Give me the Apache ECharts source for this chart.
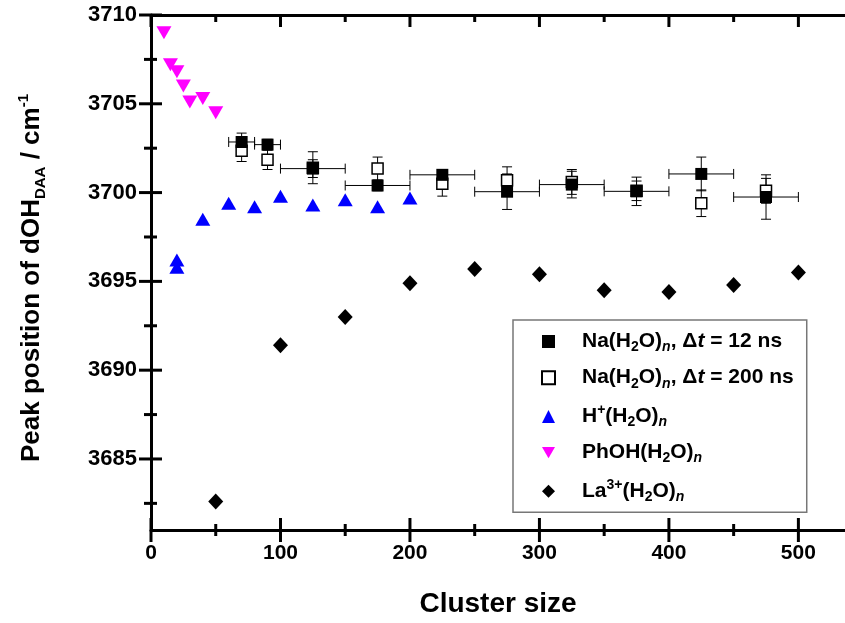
<!DOCTYPE html>
<html>
<head>
<meta charset="utf-8">
<script src="https://cdn.jsdelivr.net/npm/echarts@6/dist/echarts.min.js"></script>
<style>
  html, body { margin: 0; padding: 0; background: #fff; }
  #chart { width: 845px; height: 623px; }
</style>
</head>
<body>
<div id="chart"></div>
<script>
const FONT = "'Liberation Sans', Arial, Helvetica, sans-serif";

// Na(H2O)n clusters: size bins (centre and half-width) and peak positions / cm^-1
const naSizes   = [70, 90, 125, 175, 225, 275, 325, 375, 425, 475];
const naSizeErr = [10, 10, 25, 25, 25, 25, 25, 25, 25, 25];
const na12Peak     = [3702.85, 3702.7, 3701.35, 3700.4, 3701.0, 3700.05, 3700.45, 3700.07, 3701.05, 3699.75];
const na12PeakErr  = [0.5, 0.3, 0.5, 0.3, 0.3, 1.0, 0.75, 0.8, 0.95, 1.25];
const na200Peak    = [3702.35, 3701.85, 3701.4, 3701.35, 3700.5, 3700.7, 3700.6, 3700.1, 3699.4, 3700.1];
const na200PeakErr = [0.6, 0.55, 0.9, 0.65, 0.7, 0.75, 0.7, 0.55, 0.75, 0.7];

// Protonated water clusters
const hSizes = [20, 20, 40, 60, 80, 100, 125, 150, 175, 200];
const hPeak  = [3696.2, 3695.8, 3698.5, 3699.4, 3699.2, 3699.8, 3699.3, 3699.6, 3699.2, 3699.7];

// Phenol-water clusters
const phSizes = [10, 15, 20, 25, 30, 40, 50];
const phPeak  = [3709.0, 3707.2, 3706.8, 3706.0, 3705.1, 3705.3, 3704.5];

// La3+ water clusters
const laSizes = [50, 100, 150, 200, 250, 300, 350, 400, 450, 500];
const laPeak  = [3682.6, 3691.4, 3693.0, 3694.9, 3695.7, 3695.4, 3694.5, 3694.4, 3694.8, 3695.5];

// Axis ranges and tick values
const xRange = [0, 536];
const yRange = [3681, 3710];
const xMajor = [0, 100, 200, 300, 400, 500];
const xMinor = [50, 150, 250, 350, 450];
const yMajor = [3685, 3690, 3695, 3700, 3705, 3710];
const yMinor = [3682.5, 3687.5, 3692.5, 3697.5, 3702.5, 3707.5];

const seriesNames = [
  'Na(H2O)n, dt = 12 ns',
  'Na(H2O)n, dt = 200 ns',
  'H+(H2O)n',
  'PhOH(H2O)n',
  'La3+(H2O)n'
];
const legendRich = [
  '{g|}{r|Na(H}{s|2}{r|O)}{si|n}{r|, \u0394}{ri|t}{r| = 12 ns}',
  '{g|}{r|Na(H}{s|2}{r|O)}{si|n}{r|, \u0394}{ri|t}{r| = 200 ns}',
  '{g|}{r|H}{p|+}{r|(H}{s|2}{r|O)}{si|n}',
  '{g|}{r|PhOH(H}{s|2}{r|O)}{si|n}',
  '{g|}{r|La}{p|3+}{r|(H}{s|2}{r|O)}{si|n}'
];
const DOWN_TRIANGLE = 'path://M0,0L2,0L1,1.75Z';

const BIG = 21, SMALL = 14;
const richStyles = {
  g:  { width: 22, lineHeight: 26 },
  r:  { fontFamily: FONT, fontWeight: 'bold', fontSize: BIG, color: '#000', lineHeight: 26, verticalAlign: 'middle' },
  ri: { fontFamily: FONT, fontWeight: 'bold', fontStyle: 'italic', fontSize: BIG, color: '#000', lineHeight: 26, verticalAlign: 'middle' },
  s:  { fontFamily: FONT, fontWeight: 'bold', fontSize: SMALL, color: '#000', lineHeight: 13, verticalAlign: 'bottom' },
  si: { fontFamily: FONT, fontWeight: 'bold', fontStyle: 'italic', fontSize: SMALL, color: '#000', lineHeight: 13, verticalAlign: 'bottom' },
  p:  { fontFamily: FONT, fontWeight: 'bold', fontSize: SMALL, color: '#000', lineHeight: 13, verticalAlign: 'top' }
};

const frameLine = { show: true, lineStyle: { color: '#000', width: 3 } };

const xAxes = [
  {
    type: 'value', position: 'bottom', min: xRange[0], max: xRange[1],
    axisLine: frameLine,
    axisTick: { show: false },
    axisLabel: {
      customValues: xMajor, margin: 13,
      fontFamily: FONT, fontWeight: 'bold', fontSize: 21, color: '#000',
      formatter: v => String(v)
    },
    splitLine: { show: false },
    name: 'Cluster size', nameLocation: 'middle', nameGap: 60,
    nameTextStyle: { fontFamily: FONT, fontWeight: 'bold', fontSize: 28, color: '#000' }
  },
  {
    type: 'value', position: 'top', min: xRange[0], max: xRange[1],
    axisLine: frameLine,
    axisTick: { show: false },
    axisLabel: { show: false },
    splitLine: { show: false }
  }
];

const yAxes = [
  {
    type: 'value', position: 'left', min: yRange[0], max: yRange[1],
    axisLine: frameLine,
    axisTick: { show: false },
    axisLabel: {
      customValues: yMajor, margin: 14,
      fontFamily: FONT, fontWeight: 'bold', fontSize: 22, color: '#000',
      formatter: v => String(v)
    },
    splitLine: { show: false },
    name: '{m|Peak position of dOH}{s|DAA}{m| / cm}{p|-1}',
    nameLocation: 'middle', nameRotate: 90, nameGap: 103,
    nameTextStyle: {
      padding: [0, 11, 0, 0],
      rich: {
        m: { fontFamily: FONT, fontWeight: 'bold', fontSize: 26, color: '#000', lineHeight: 32, verticalAlign: 'middle' },
        s: { fontFamily: FONT, fontWeight: 'bold', fontSize: 15, color: '#000', lineHeight: 14, verticalAlign: 'bottom' },
        p: { fontFamily: FONT, fontWeight: 'bold', fontSize: 15, color: '#000', lineHeight: 14, verticalAlign: 'top' }
      }
    }
  }
];

// Thick tick bar between two pixel points (filled rectangle, 3px wide).
function tickBar(x1, y1, x2, y2) {
  const w = 3;
  if (x1 === x2) {
    return { type: 'rect', shape: { x: x1 - w / 2, y: Math.min(y1, y2), width: w, height: Math.abs(y2 - y1) }, style: { fill: '#000' } };
  }
  return { type: 'rect', shape: { x: Math.min(x1, x2), y: y1 - w / 2, width: Math.abs(x2 - x1), height: w }, style: { fill: '#000' } };
}

// Tick marks on the bottom (crossing) and top (inward) frame lines at an x value.
function xTickMarks(half, topLen) {
  return (params, api) => {
    const v = api.value(0);
    const b = api.coord([v, yRange[0]]);
    const t = api.coord([v, yRange[1]]);
    return {
      type: 'group',
      children: [
        tickBar(b[0], b[1] - half, b[0], b[1] + half),
        tickBar(t[0], t[1], t[0], t[1] + topLen)
      ]
    };
  };
}
// Tick marks crossing the left frame line at a y value.
function yTickMarks(outLen, inLen) {
  return (params, api) => {
    const p = api.coord([xRange[0], api.value(1)]);
    return { type: 'group', children: [tickBar(p[0] - outLen, p[1], p[0] + inLen, p[1])] };
  };
}

// Horizontal and vertical error bars with end caps, drawn through the axis scales.
function errorBars(params, api) {
  const x = api.value(0), y = api.value(1), xe = api.value(2), ye = api.value(3);
  const style = { stroke: '#000', lineWidth: 1 };
  const cap = 5;
  const kids = [];
  const seg = (x1, y1, x2, y2) => kids.push({ type: 'line', shape: { x1, y1, x2, y2 }, style });
  if (xe > 0) {
    const a = api.coord([x - xe, y]), b = api.coord([x + xe, y]);
    seg(a[0], a[1], b[0], b[1]);
    seg(a[0], a[1] - cap, a[0], a[1] + cap);
    seg(b[0], b[1] - cap, b[0], b[1] + cap);
  }
  if (ye > 0) {
    const t = api.coord([x, y + ye]), b = api.coord([x, y - ye]);
    seg(t[0], t[1], b[0], b[1]);
    seg(t[0] - cap, t[1], t[0] + cap, t[1]);
    seg(b[0] - cap, b[1], b[0] + cap, b[1]);
  }
  return { type: 'group', children: kids };
}

const pairs = (xs, ys) => xs.map((x, i) => [x, ys[i]]);
const solid = color => ({ color: color, opacity: 1 });
const tickSeries = (name, data, render) => ({
  name: name, type: 'custom', renderItem: render, silent: true, clip: false, z: 5,
  encode: { x: 0, y: 1 }, data: data
});

const option = {
  animation: false,
  backgroundColor: '#fff',
  grid: { left: 151, right: 0, top: 15, bottom: 93, containLabel: false },
  xAxis: xAxes,
  yAxis: yAxes,
  legend: {
    data: seriesNames.map((n, i) => (i === 3 ? { name: n, icon: DOWN_TRIANGLE } : { name: n })),
    orient: 'vertical',
    left: 513, top: 320,
    padding: [11, 13, 8, 28],
    itemGap: 12.7,
    itemWidth: 13, itemHeight: 13,
    symbolKeepAspect: true,
    borderColor: '#777', borderWidth: 1.5,
    backgroundColor: '#fff',
    selectedMode: false,
    formatter: name => legendRich[seriesNames.indexOf(name)],
    textStyle: { rich: richStyles }
  },
  series: [
    {
      name: 'na200-err', type: 'custom', renderItem: errorBars, silent: true,
      encode: { x: 0, y: 1 },
      data: naSizes.map((x, i) => [x, na200Peak[i], 0, na200PeakErr[i]])
    },
    {
      name: 'na12-err', type: 'custom', renderItem: errorBars, silent: true,
      encode: { x: 0, y: 1 },
      data: naSizes.map((x, i) => [x, na12Peak[i], naSizeErr[i], na12PeakErr[i]])
    },
    {
      name: seriesNames[1], type: 'scatter', symbol: 'rect', symbolSize: 11,
      itemStyle: { color: '#fff', borderColor: '#000', borderWidth: 1.5, opacity: 1 },
      data: pairs(naSizes, na200Peak)
    },
    {
      name: seriesNames[0], type: 'scatter', symbol: 'rect', symbolSize: 12,
      itemStyle: solid('#000'),
      data: pairs(naSizes, na12Peak)
    },
    {
      name: seriesNames[2], type: 'scatter', symbol: 'triangle', symbolSize: [15, 13],
      itemStyle: solid('#0000ff'),
      data: pairs(hSizes, hPeak)
    },
    {
      name: seriesNames[3], type: 'scatter', symbol: 'triangle', symbolSize: [15, 13], symbolRotate: 180,
      itemStyle: solid('#ff00ff'),
      data: pairs(phSizes, phPeak)
    },
    {
      name: seriesNames[4], type: 'scatter', symbol: 'diamond', symbolSize: [15, 16],
      itemStyle: solid('#000'),
      data: pairs(laSizes, laPeak)
    },
    tickSeries('x-major-ticks', xMajor.map(v => [v, yRange[0]]), xTickMarks(12, 12)),
    tickSeries('x-minor-ticks', xMinor.map(v => [v, yRange[0]]), xTickMarks(6, 7)),
    tickSeries('y-major-ticks', yMajor.map(v => [xRange[0], v]), yTickMarks(12, 11)),
    tickSeries('y-minor-ticks', yMinor.map(v => [xRange[0], v]), yTickMarks(7, 6))
  ]
};

const chart = echarts.init(document.getElementById('chart'), null, { renderer: 'canvas' });
chart.setOption(option);
</script>
</body>
</html>
